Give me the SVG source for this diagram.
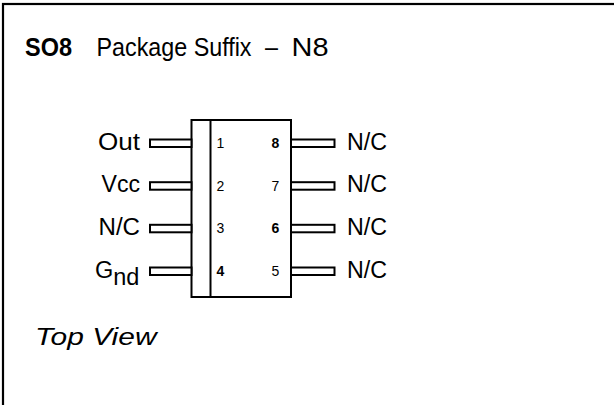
<svg xmlns="http://www.w3.org/2000/svg" width="614" height="405" viewBox="0 0 614 405">
<style>
.t{font-family:"Liberation Sans",Arial,sans-serif;fill:#000}
.lbl{font-size:23.5px}
.num{font-size:14px}
.lead{fill:#fff;stroke:#000;stroke-width:2}
.body{fill:#fff;stroke:#000;stroke-width:2}
</style>
<rect x="3" y="4" width="640" height="440" fill="#fff" stroke="#000" stroke-width="2.2"/>
<text class="t" x="25" y="56" font-size="25" font-weight="bold" textLength="47" lengthAdjust="spacingAndGlyphs">SO8</text>
<text class="t" x="96.5" y="56" font-size="25" textLength="155" lengthAdjust="spacingAndGlyphs">Package Suffix</text>
<text class="t" x="265" y="56" font-size="25" textLength="13" lengthAdjust="spacingAndGlyphs">–</text>
<text class="t" x="291.5" y="56" font-size="25" textLength="37" lengthAdjust="spacingAndGlyphs">N8</text>
<g id="package">
<rect class="body" x="191.5" y="120" width="99.5" height="177"/>
<line x1="210.5" y1="120" x2="210.5" y2="297" stroke="#000" stroke-width="2"/>
</g>
<g id="connectors">
<rect class="lead" x="150" y="139.5" width="41.5" height="7.5"/>
<rect class="lead" x="150" y="182.2" width="41.5" height="7.5"/>
<rect class="lead" x="150" y="224.8" width="41.5" height="7.5"/>
<rect class="lead" x="150" y="267.5" width="41.5" height="7.5"/>
<rect class="lead" x="291" y="139.5" width="43.5" height="7.5"/>
<rect class="lead" x="291" y="182.2" width="43.5" height="7.5"/>
<rect class="lead" x="291" y="224.8" width="43.5" height="7.5"/>
<rect class="lead" x="291" y="267.5" width="43.5" height="7.5"/>
</g>
<g id="pin1"><text class="t lbl" x="140" y="149.5" text-anchor="end" textLength="42" lengthAdjust="spacingAndGlyphs">Out</text><text class="t num" x="216.5" y="148.3">1</text></g>
<g id="pin2"><text class="t lbl" x="140" y="192" text-anchor="end" textLength="38.5" lengthAdjust="spacingAndGlyphs">Vcc</text><text class="t num" x="216.5" y="190.8">2</text></g>
<g id="pin3"><text class="t lbl" x="140" y="235" text-anchor="end" textLength="41.5" lengthAdjust="spacingAndGlyphs">N/C</text><text class="t num" x="216.5" y="233.3">3</text></g>
<g id="pin4"><text class="t lbl" x="95" y="278.3">G<tspan dy="7">nd</tspan></text><text class="t num" x="216.5" y="275.8" font-weight="bold">4</text></g>
<g id="pin8"><text class="t num" x="271.5" y="148.3" font-weight="bold">8</text><text class="t lbl" x="347" y="149.5" textLength="40" lengthAdjust="spacingAndGlyphs">N/C</text></g>
<g id="pin7"><text class="t num" x="271.5" y="190.8">7</text><text class="t lbl" x="347" y="192" textLength="40" lengthAdjust="spacingAndGlyphs">N/C</text></g>
<g id="pin6"><text class="t num" x="271.5" y="233.3" font-weight="bold">6</text><text class="t lbl" x="347" y="235" textLength="40" lengthAdjust="spacingAndGlyphs">N/C</text></g>
<g id="pin5"><text class="t num" x="271.5" y="275.8">5</text><text class="t lbl" x="347" y="278.3" textLength="40" lengthAdjust="spacingAndGlyphs">N/C</text></g>
<text class="t" x="35" y="345" font-size="24" font-style="italic" textLength="121.5" lengthAdjust="spacingAndGlyphs">Top View</text>
</svg>
